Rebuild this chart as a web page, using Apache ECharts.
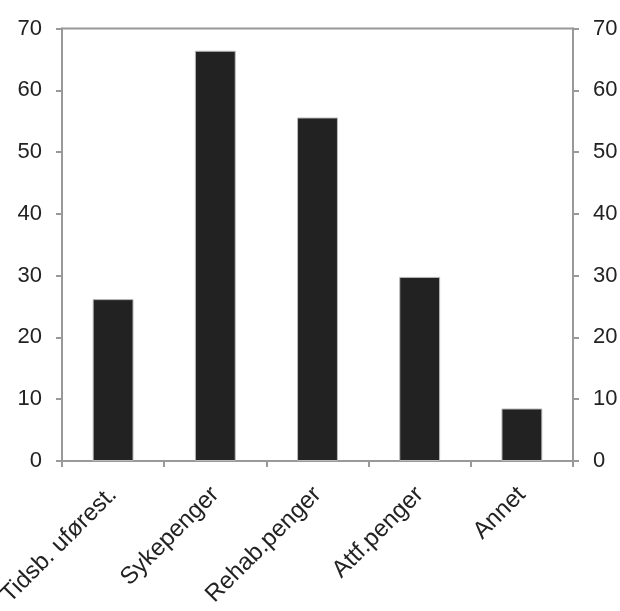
<!DOCTYPE html>
<html><head><meta charset="utf-8">
<script src="https://cdn.jsdelivr.net/npm/echarts@6/dist/echarts.min.js"></script>
<style>html,body{margin:0;padding:0;background:#fff}#c{width:620px;height:611px}</style>
</head><body><div id="c"></div>
<script>
const categories = ['Tidsb. uførest.', 'Sykepenger', 'Rehab.penger', 'Attf.penger', 'Annet'];
const values = [26.2, 66.4, 55.6, 29.8, 8.5];
const yTicks = [0, 10, 20, 30, 40, 50, 60, 70];

const chart = echarts.init(document.getElementById('c'), null, {renderer: 'canvas'});
const yAxisCommon = {
  type: 'value', min: 0, max: 70, interval: 10,
  axisLine: {show: true, lineStyle: {color: '#999', width: 2}},
  axisTick: {show: true, length: 6, lineStyle: {color: '#999', width: 2}},
  splitLine: {show: false},
  axisLabel: {color: '#222', fontSize: 22, fontFamily: 'Liberation Sans, Arial, sans-serif', margin: 20}
};
chart.setOption({
  animation: false,
  grid: {left: 62, right: 47, top: 28.5, bottom: 150, containLabel: false, outerBoundsMode: 'none',
         show: true, borderColor: '#999', borderWidth: 2, backgroundColor: 'transparent'},
  xAxis: {
    type: 'category', data: categories,
    axisLine: {show: true, lineStyle: {color: '#999', width: 2}},
    axisTick: {show: true, length: 6, alignWithLabel: false, lineStyle: {color: '#999', width: 2}},
    axisLabel: {color: '#222', fontSize: 24, fontFamily: 'Liberation Sans, Arial, sans-serif', rotate: 45, margin: 30, interval: 0}
  },
  yAxis: [
    Object.assign({}, yAxisCommon, {position: 'left'}),
    Object.assign({}, yAxisCommon, {position: 'right'})
  ],
  series: [{
    type: 'bar', data: values, barWidth: '40%',
    itemStyle: {color: '#222', borderColor: '#bbb', borderWidth: 1}
  }]
});
</script></body></html>
